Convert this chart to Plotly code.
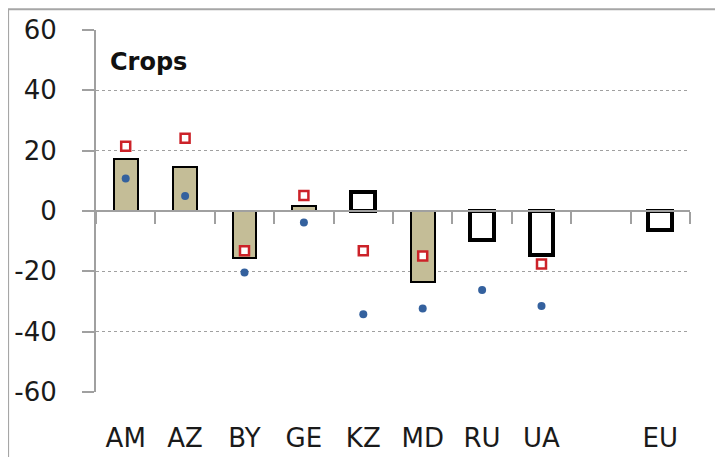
import plotly.graph_objects as go

categories = ["AM", "AZ", "BY", "GE", "KZ", "MD", "RU", "UA", " ", "EU"]
bar_values = [17.1, 14.5, -15.7, 1.6, 6.4, -23.6, -9.6, -14.6, None, -6.3]
bar_filled = [True, True, True, True, False, True, False, False, False, False]
square_values = [21.5, 24.1, -13.2, 5.1, -13.2, -14.9, None, -17.6, None, None]
dot_values = [10.8, 5.0, -20.4, -3.8, -34.2, -32.3, -26.2, -31.5, None, None]
y_ticks = [-60, -40, -20, 0, 20, 40, 60]
y_tick_labels = ["-60", "-40", "-20", "0", "20", "40", "60"]
title_text = "Crops"

TAN = "#c4bd97"
GRID = "#a0a0a0"
FONT = "DejaVu Sans"

fig = go.Figure()

fig.add_trace(go.Bar(
    x=categories, y=bar_values, width=0.4,
    marker=dict(
        color=[TAN if f else "white" for f in bar_filled],
        line=dict(color="black", width=[2 if f else 4 for f in bar_filled]),
    ),
    showlegend=False, hoverinfo="skip",
))
fig.add_trace(go.Scatter(
    x=categories, y=square_values, mode="markers",
    marker=dict(symbol="square", size=9, color="white",
                line=dict(color="#cc2229", width=2.5)),
    showlegend=False, hoverinfo="skip",
))
fig.add_trace(go.Scatter(
    x=categories, y=dot_values, mode="markers",
    marker=dict(symbol="circle", size=8, color="#34619e"),
    showlegend=False, hoverinfo="skip",
))
# invisible trace to carry the zero-line category axis
fig.add_trace(go.Scatter(
    x=categories, y=[0] * len(categories), xaxis="x2", mode="markers",
    marker=dict(size=0.1, opacity=0), showlegend=False, hoverinfo="skip",
))

fig.update_layout(
    width=715, height=449,
    margin=dict(l=88, r=33, t=22, b=65),
    plot_bgcolor="white", paper_bgcolor="white",
    font=dict(family=FONT, size=25, color="#222222"),
    bargap=0,
    xaxis=dict(
        type="category", categoryorder="array", categoryarray=categories,
        range=[-0.5, 9.5], showgrid=False, showline=False, zeroline=False,
        ticks="", tickfont=dict(family=FONT, size=26, color="#1a1a1a"),
        ticklabelstandoff=28, automargin=False,
    ),
    xaxis2=dict(
        type="category", categoryorder="array", categoryarray=categories,
        range=[-0.5, 9.5], overlaying="x", anchor="free", position=0.5,
        showline=True, linecolor=GRID, linewidth=2,
        ticks="outside", tickson="boundaries", ticklen=12, tickwidth=2,
        tickcolor=GRID, showticklabels=False, showgrid=False, zeroline=False,
        automargin=False,
    ),
    yaxis=dict(
        range=[-60, 60], tickvals=y_ticks, ticktext=y_tick_labels,
        showgrid=True, gridcolor=GRID,
        griddash="dot", gridwidth=1, zeroline=False,
        showline=True, linecolor=GRID, linewidth=2,
        ticks="outside", ticklen=12, tickwidth=2, tickcolor=GRID,
        tickfont=dict(family=FONT, size=26, color="#1a1a1a"),
        ticklabelstandoff=20, automargin=False,
    ),
    annotations=[dict(
        text="<b>" + title_text + "</b>", xref="paper", yref="paper",
        x=0.02, y=0.912, xanchor="left", yanchor="middle", showarrow=False,
        font=dict(family=FONT, size=24, color="#111111"),
    )],
    shapes=[
        dict(type="rect", xref="paper", yref="paper",
             x0=-0.148, x1=1.2, y0=-0.3, y1=1.057,
             line=dict(color="#a6a6a6", width=2), layer="below"),
    ],
)

fig.write_html("out.html")
